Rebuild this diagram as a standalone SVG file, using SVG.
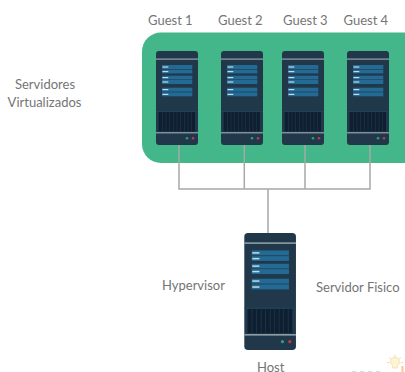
<svg xmlns="http://www.w3.org/2000/svg" width="405" height="372" viewBox="0 0 405 372">
<style>
text{font-family:Lato,"Liberation Sans",sans-serif;font-size:13px;fill:#757575}
.wire{fill:none;stroke:#a8a8a8;stroke-width:1.5}
.body{fill:#20384a}.hl{fill:#95a5ac}.bar{fill:#236a94}.tick{fill:#c6dbe4}.div{fill:#1b4a5e}.grill{fill:#0d1f30}.slot{fill:#24384a}.g{fill:#2f9e78}.r{fill:#c0394f}
</style>
<defs>
<g id="server">
<rect class="body" width="42" height="94" rx="3"/>
<rect class="hl" y="7.500" width="42" height="1.200"/>
<rect class="bar" x="6" y="14" width="30.300" height="4"/><rect class="bar" x="6" y="18.600" width="30.300" height="3.800"/>
<rect class="bar" x="6" y="24.700" width="30.300" height="3.800"/><rect class="bar" x="6" y="29" width="30.300" height="4"/>
<rect class="bar" x="6" y="36.700" width="30.300" height="4"/><rect class="bar" x="6" y="41.300" width="30.300" height="4"/>
<rect class="tick" x="6.500" y="15.400" width="5.800" height="1.200"/><rect class="tick" x="6.500" y="20" width="5.800" height="1.200"/>
<rect class="tick" x="6.500" y="26" width="5.800" height="1.200"/><rect class="tick" x="6.500" y="30.400" width="5.800" height="1.200"/>
<rect class="tick" x="6.500" y="38" width="5.800" height="1.200"/><rect class="tick" x="6.500" y="42.800" width="5.800" height="1.200"/>
<rect class="div" y="60" width="42" height="0.700"/>
<rect class="grill" x="2.700" y="61" width="36.300" height="19.400"/>
<path class="slot" d="M6 61h.6v19.400H6zM9.700 61h.6v19.400h-.6zM13.400 61h.6v19.400h-.6zM17 61h.6v19.400H17zM20.700 61h.6v19.400h-.6zM24.400 61h.6v19.400h-.6zM28 61h.6v19.400H28zM31.700 61h.6v19.400h-.6zM35.400 61h.6v19.400h-.6z"/>
<rect class="hl" y="81.200" width="42" height="1.200"/>
<circle class="g" cx="31" cy="87.300" r="1.300"/><circle class="r" cx="37" cy="87.300" r="1.300"/>
</g>
</defs>
<rect id="cluster" x="142" y="32.500" width="280" height="130.500" rx="19" fill="#43b68a"/>
<g id="connectors">
<path class="wire" d="M179 145V189H370V145M244.300 145V189M305 145V189M268 189V233"/>
</g>
<g id="guest1"><use href="#server" x="156" y="51"/><text x="148" y="25">Guest 1</text></g>
<g id="guest2"><use href="#server" x="221" y="51"/><text x="218" y="25">Guest 2</text></g>
<g id="guest3"><use href="#server" x="282" y="51"/><text x="283" y="25">Guest 3</text></g>
<g id="guest4"><use href="#server" x="347" y="51"/><text x="343.500" y="25">Guest 4</text></g>
<g id="host"><use href="#server" transform="translate(244.300 233) scale(1.230 1.245)"/><text x="257" y="371.500">Host</text></g>
<text x="45" y="89" text-anchor="middle">Servidores</text>
<text x="44.500" y="107" text-anchor="middle">Virtualizados</text>
<text x="162" y="290">Hypervisor</text>
<text x="316" y="292">Servidor Fisico</text>
<g id="logo" fill="none" stroke-width="1">
<path d="M392.500 365.500a4.500 4.500 0 1 1 5 0v2.500h-5z" fill="#fdf3d6" stroke="#fae3ae"/>
<path d="M395 354.500v2.500M389 357.500l2 1.500M401 357.500l-2 1.500M387 362.500h2.500M403 362.500h-2.500" stroke="#fbdca0"/>
<rect x="401.500" y="366" width="2" height="6" fill="#f7c795"/>
<path d="M352 371.500h32" stroke="#cfe0ea" stroke-dasharray="4 4"/>
</g>
</svg>
